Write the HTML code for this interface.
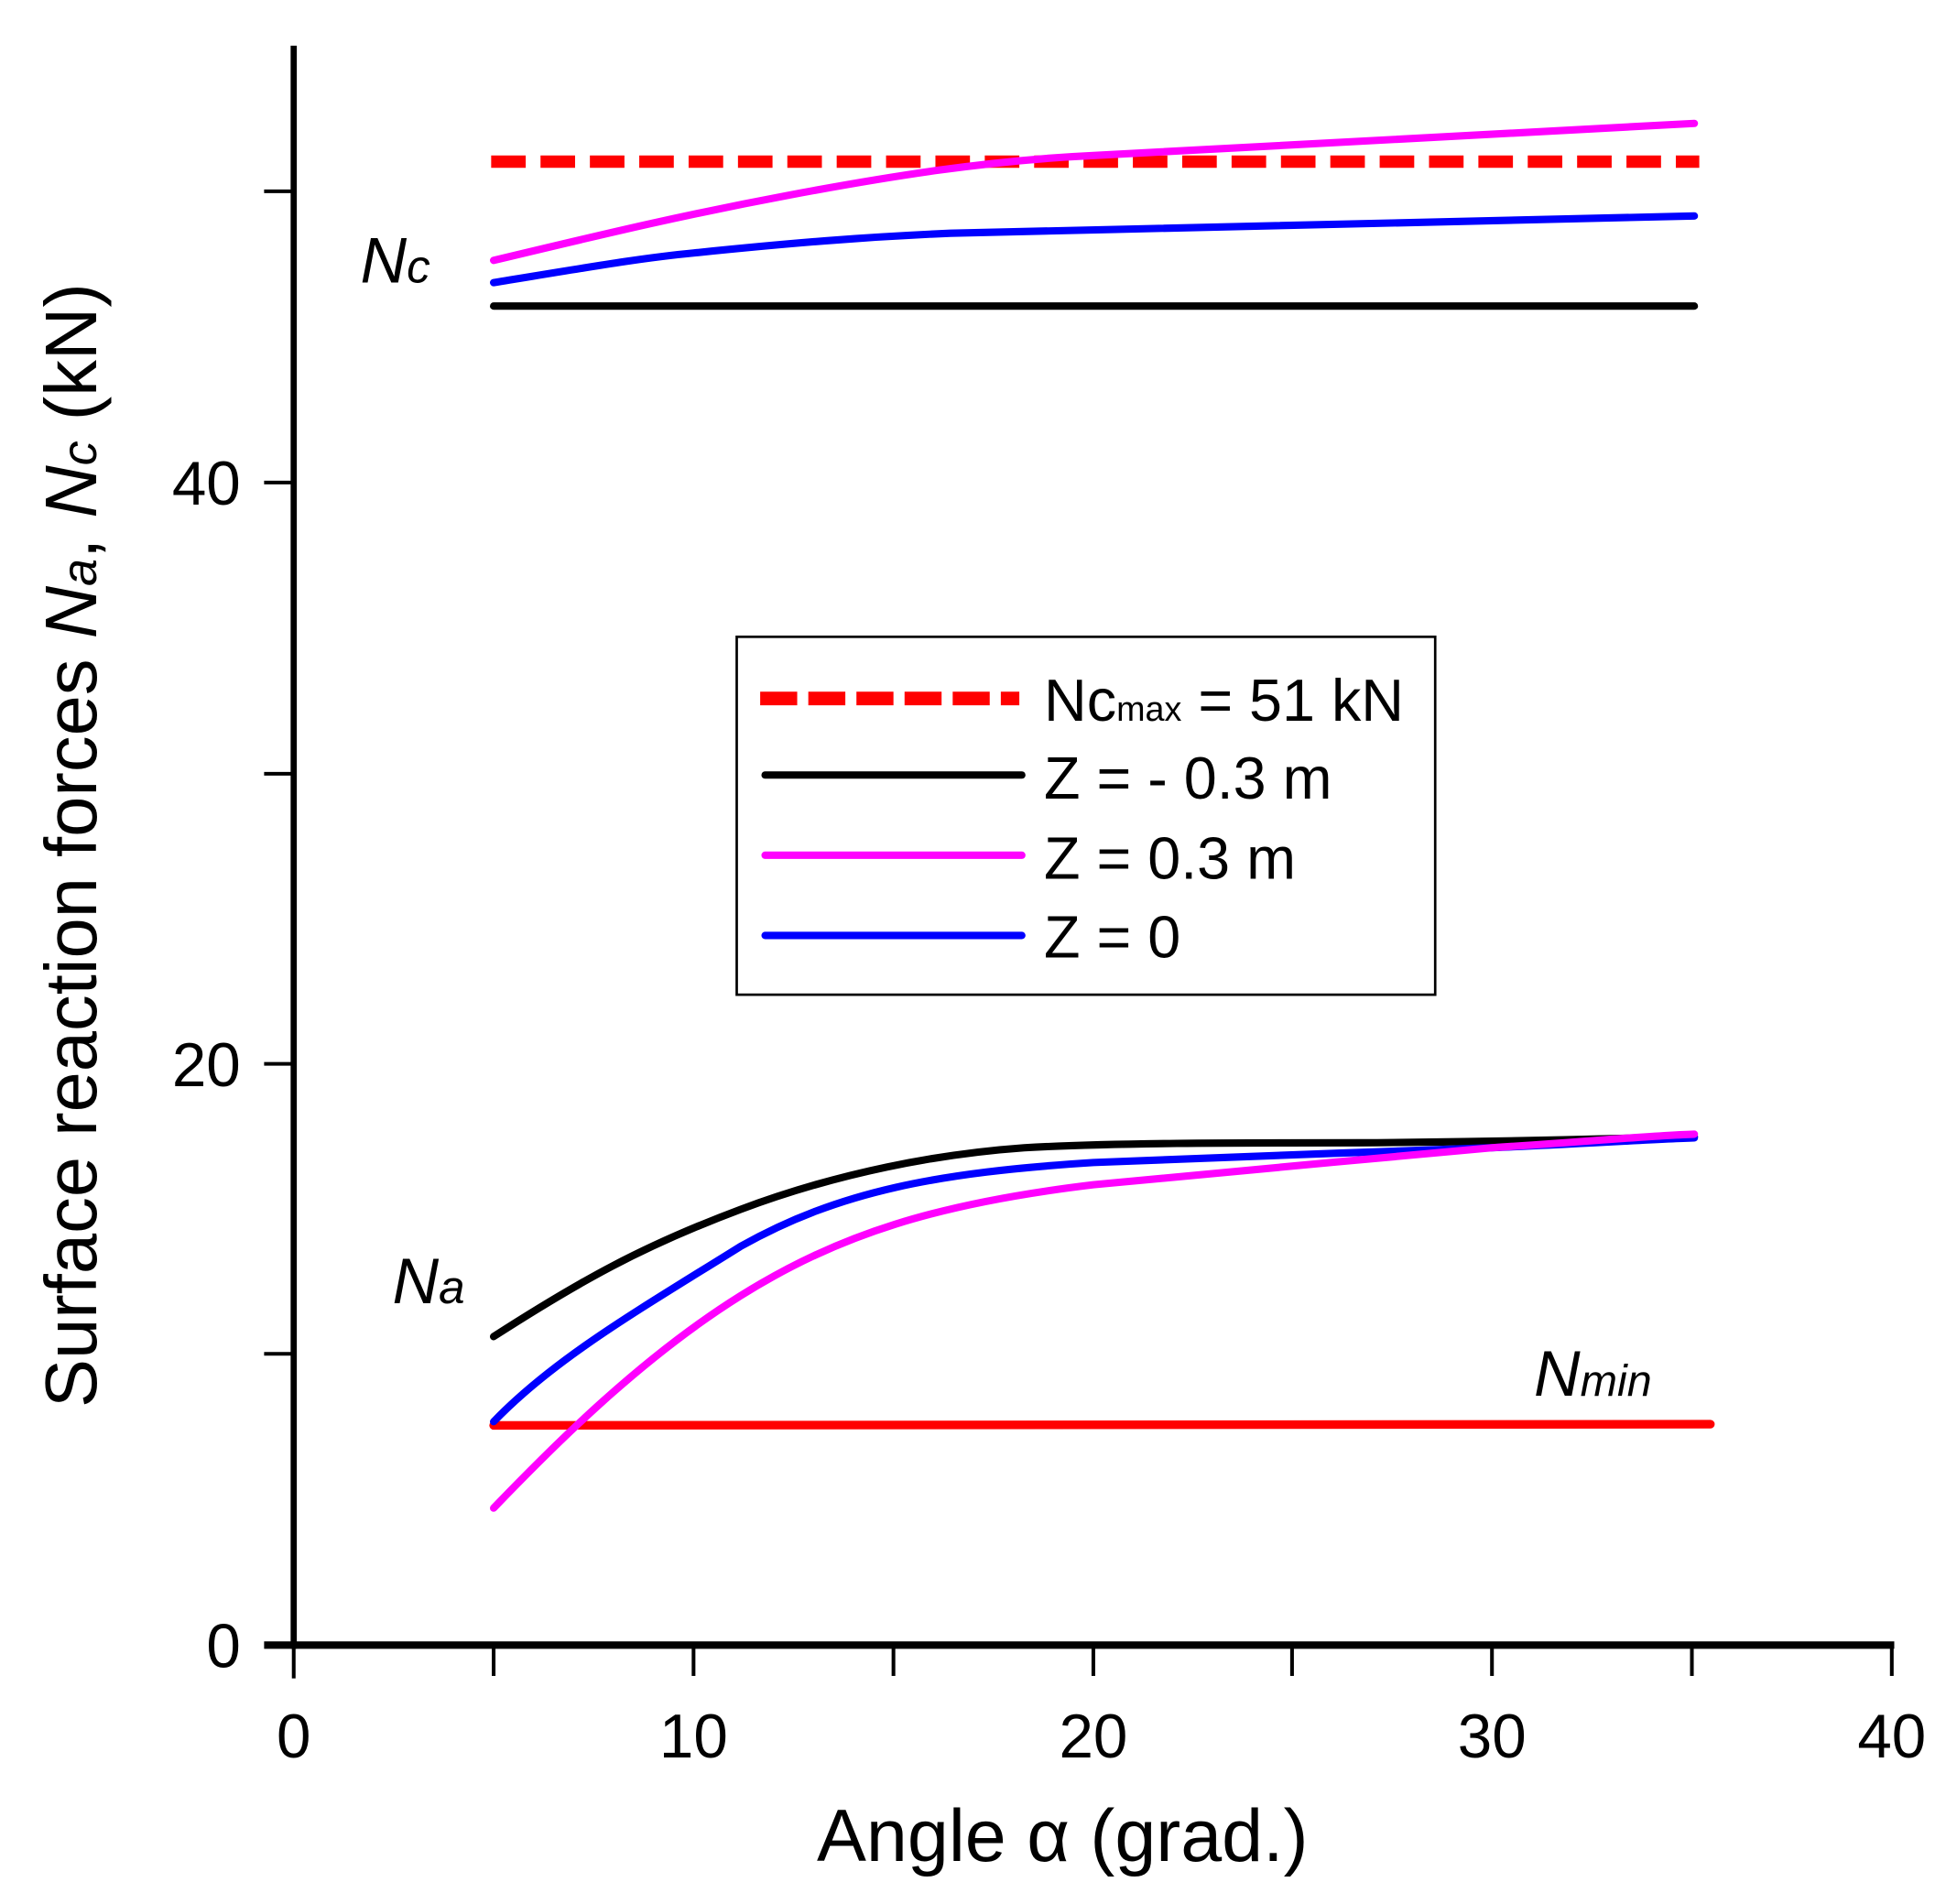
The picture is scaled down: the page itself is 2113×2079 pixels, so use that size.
<!DOCTYPE html>
<html><head><meta charset="utf-8"><style>html,body{margin:0;padding:0;background:#fff}svg{display:block}</style></head>
<body>
<svg width="2113" height="2079" viewBox="0 0 1568 1542.8" xmlns="http://www.w3.org/2000/svg" font-family="Liberation Sans, Arial, sans-serif">
<rect width="1568" height="1543" fill="#fff"/>
<!-- axes -->
<line x1="238" y1="37" x2="238" y2="1336" stroke="#000" stroke-width="5"/>
<line x1="214" y1="1333" x2="1535" y2="1333" stroke="#000" stroke-width="6"/>
<g stroke="#000" stroke-width="3">
<line x1="238" y1="1333" x2="238" y2="1360"/><line x1="400" y1="1333" x2="400" y2="1358"/>
<line x1="562" y1="1333" x2="562" y2="1358"/><line x1="724" y1="1333" x2="724" y2="1358"/>
<line x1="886" y1="1333" x2="886" y2="1358"/><line x1="1047" y1="1333" x2="1047" y2="1358"/>
<line x1="1209" y1="1333" x2="1209" y2="1358"/><line x1="1371" y1="1333" x2="1371" y2="1358"/>
<line x1="1533" y1="1333" x2="1533" y2="1358"/>
<line x1="214" y1="155" x2="238" y2="155"/><line x1="214" y1="391" x2="238" y2="391"/>
<line x1="214" y1="627" x2="238" y2="627"/><line x1="214" y1="862" x2="238" y2="862"/>
<line x1="214" y1="1097" x2="238" y2="1097"/>
</g>
<g font-size="50" fill="#000">
<text x="195" y="1351" text-anchor="end">0</text>
<text x="195" y="880" text-anchor="end">20</text>
<text x="195" y="409" text-anchor="end">40</text>
<g text-anchor="middle">
<text x="238" y="1424">0</text><text x="562" y="1424">10</text><text x="886" y="1424">20</text>
<text x="1209" y="1424">30</text><text x="1533" y="1424">40</text>
</g>
</g>
<text x="861" y="1508" font-size="60" text-anchor="middle">Angle α (grad.)</text>
<text transform="translate(78,685) rotate(-90)" font-size="59" text-anchor="middle">Surface reaction forces <tspan font-style="italic">N</tspan><tspan font-style="italic" font-size="40">a</tspan>, <tspan font-style="italic">N</tspan><tspan font-style="italic" font-size="40">c</tspan> (kN)</text>
<!-- labels -->
<text x="292" y="229" font-size="52" font-style="italic">N<tspan font-size="38">c</tspan></text>
<text x="318" y="1056" font-size="52" font-style="italic">N<tspan font-size="38">a</tspan></text>
<text x="1243" y="1131" font-size="52" font-style="italic">N<tspan font-size="36">min</tspan></text>
<!-- series -->
<g fill="none" stroke-width="6" stroke-linecap="round">
<line x1="398" y1="131" x2="1377" y2="131" stroke="#ff0000" stroke-width="10" stroke-dasharray="28,12" stroke-linecap="butt"/>
<line x1="400" y1="248" x2="1373" y2="248" stroke="#000"/>
<path d="M400,211 C500,187 560,173 640,158 C720,143 800,130 886,126 C1047,117 1209,108 1373,100" stroke="#ff00ff"/>
<path d="M400,229 C480,216 520,209 562,205 C640,197 700,192 770,189 C886,186 1100,180 1373,175" stroke="#0000ff"/>
<line x1="400" y1="1155" x2="1386" y2="1154" stroke="#ff0000" stroke-width="7"/>
<path d="M400,1083 C470,1038 520,1010 600,980 C680,950 760,935 830,930 C900,926 1000,926 1100,926 C1250,925 1320,922 1373,921" stroke="#000"/>
<path d="M400,1152 C450,1100 520,1060 600,1010 C680,965 760,950 886,942 C1000,937 1100,934 1209,930 C1300,926 1340,923 1373,922" stroke="#0000ff"/>
<path d="M400,1222 C450,1170 520,1100 600,1050 C680,1000 760,975 886,960 C1000,949 1100,940 1209,930 C1300,924 1340,920 1373,919" stroke="#ff00ff"/>
</g>
<!-- legend -->
<rect x="597" y="516" width="566" height="290" fill="#fff" stroke="#000" stroke-width="2"/>
<line x1="616" y1="566" x2="826" y2="566" stroke="#ff0000" stroke-width="11" stroke-dasharray="30,9" stroke-linecap="butt"/>
<line x1="620" y1="628" x2="828" y2="628" stroke="#000" stroke-width="6" stroke-linecap="round"/>
<line x1="620" y1="693" x2="828" y2="693" stroke="#ff00ff" stroke-width="6" stroke-linecap="round"/>
<line x1="620" y1="758" x2="828" y2="758" stroke="#0000ff" stroke-width="6" stroke-linecap="round"/>
<g font-size="48" fill="#000">
<text x="846" y="584">Nc<tspan font-size="28">max</tspan> = 51 kN</text>
<text x="846" y="647">Z = - 0.3 m</text>
<text x="846" y="712">Z = 0.3 m</text>
<text x="846" y="776">Z = 0</text>
</g>
</svg>
</body></html>
